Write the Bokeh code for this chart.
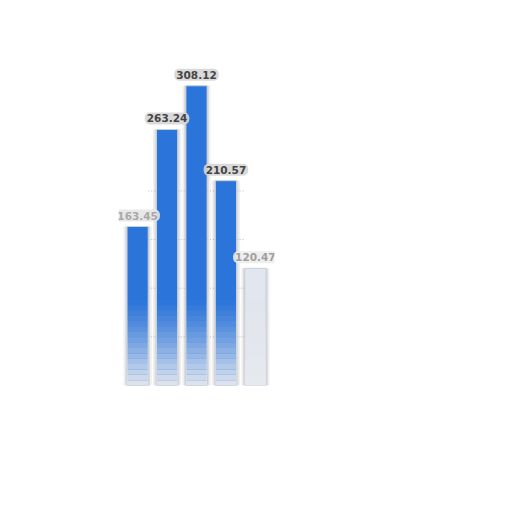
from bokeh.plotting import figure
from bokeh.models import ColumnDataSource, Range1d
from bokeh.embed import file_html
from bokeh.resources import INLINE
from bokeh.core.properties import value

categories = [1, 2, 3, 4, 5]
values = [163.45, 263.24, 308.12, 210.57, 120.47]
labels = ["163.45", "263.24", "308.12", "210.57", "120.47"]
colors = ["#2b74da", "#2b74da", "#2b74da", "#2b74da", "#e2e6ee"]
label_colors = ["#a8a8a8", "#454545", "#454545", "#454545", "#a0a0a0"]
label_bg = ["#e6e6e6", "#d6d6d6", "#d6d6d6", "#d6d6d6", "#ececec"]
grid_ticks = [50, 100, 150, 200]

src = ColumnDataSource(dict(x=categories, top=values, label=labels, color=colors,
                            lc=label_colors, lbg=label_bg))

p = figure(width=496, height=496, output_backend="svg", toolbar_location=None,
           x_range=Range1d(0.35, 5.65), y_range=Range1d(0, 330),
           min_border_left=118, min_border_right=222, min_border_top=64, min_border_bottom=111)
p.axis.visible = False
p.xgrid.visible = False
p.ygrid.visible = False
p.outline_line_color = None
p.background_fill_color = "white"
p.border_fill_color = "white"

# soft shadow behind bars
p.vbar(x="x", top="top", width=0.96, bottom=-3, source=src, fill_color="#e2e2e2",
       fill_alpha=0.5, line_color=None)
p.vbar(x="x", top="top", width=0.84, bottom=-3, source=src, fill_color="#c8c8c8",
       fill_alpha=0.55, line_color=None)

# dotted grid lines, visible only in the gaps between bars
gaps = [c + 0.5 for c in categories[:-1]]
gx0 = [g - 0.14 for t in grid_ticks for g in gaps]
gx1 = [g + 0.14 for t in grid_ticks for g in gaps]
gy = [t for t in grid_ticks for g in gaps]
p.segment(x0=gx0, x1=gx1, y0=gy, y1=gy, line_color="#a0a0a0", line_dash="1 2",
          line_alpha=0.7)

# bars
p.vbar(x="x", top="top", width=0.72, source=src, fill_color="color", line_color="#c9d0da",
       line_width=1)

# fade towards the bottom
steps = 16
for k in range(steps):
    frac = 1 - k / steps
    p.vbar(x="x", bottom=k * 5.5, top=(k + 1) * 5.5, width=0.72, source=src,
           fill_color="#e6e9ee", fill_alpha=0.95 * frac ** 1.3, line_color=None)

# value labels
p.text(x="x", y="top", text="label", source=src, text_align="center",
       text_baseline="bottom", y_offset=-5, text_font=value("DejaVu Sans"),
       text_font_size="10.5px", text_font_style="bold", text_color="lc",
       background_fill_color="lbg", background_fill_alpha=0.9,
       border_radius=5, padding=2)

open("out.html", "w").write(file_html(p, INLINE))
